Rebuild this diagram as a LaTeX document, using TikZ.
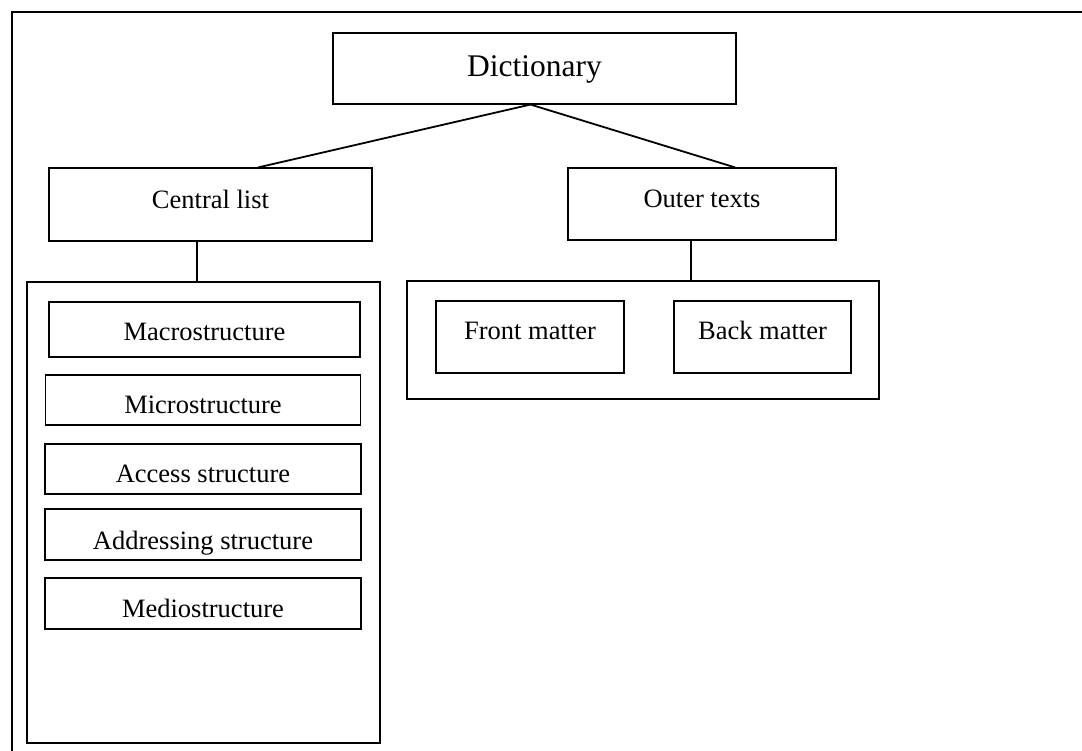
\documentclass[tikz,border=0pt]{standalone}
\usepackage{fontspec}
\setmainfont{Liberation Serif}
\usetikzlibrary{calc}
\begin{document}
\begin{tikzpicture}[x=1pt,y=-1pt,
  box/.style={draw,line width=1.1pt,rectangle,inner sep=0pt,text depth=0pt,
    font=\fontsize{26.5}{31}\selectfont},
  group/.style={draw,line width=1.8pt,rectangle,inner sep=0pt},
  link/.style={line width=1.8pt}]
\useasboundingbox (0,0) rectangle (1082,751);
% page frame (open at right and bottom)
\draw[line width=2pt] (1082,12) -- (12,12) -- (12,751);
% top level
\node[box,minimum width=403pt,minimum height=71pt,text height=16.8pt,
  font=\fontsize{31.5}{36}\selectfont] (dict) at (534.5,68.5) {Dictionary};
\node[box,minimum width=323pt,minimum height=73pt,text height=7.5pt] (central) at (210.5,204.5) {Central list};
\node[box,minimum width=268pt,minimum height=72pt,text height=7.5pt] (outer) at (702,204) {Outer texts};
% containers
\node[group,minimum width=353pt,minimum height=461pt] (clist) at (203.5,512.5) {};
\node[group,minimum width=472pt,minimum height=118pt] (otexts) at (643,340) {};
% central list components
\node[box,minimum width=311pt,minimum height=55pt,text height=21.5pt] (macro) at (204.5,329.5) {Macrostructure};
\node[box,minimum width=315pt,minimum height=50pt,text height=27.5pt] (micro) at (203,400) {Microstructure};
\node[box,minimum width=316pt,minimum height=50pt,text height=27.5pt] (access) at (203,469) {Access structure};
\node[box,minimum width=316pt,minimum height=51pt,text height=29.5pt] (address) at (203,534.5) {Addressing structure};
\node[box,minimum width=316pt,minimum height=51pt,text height=27.5pt] (medio) at (203,603.5) {Mediostructure};
% outer texts components
\node[box,minimum width=188pt,minimum height=72pt,text height=4.5pt] (front) at (530,337) {Front matter};
\node[box,minimum width=177pt,minimum height=72pt,text height=4.5pt] (back) at (762.5,337) {Back matter};
% connectors
\coordinate (apex) at ([xshift=-4pt]dict.south);
\coordinate (cin) at ($(central.north west)!0.647!(central.north east)$);
\coordinate (oin) at ($(outer.north west)!0.623!(outer.north east)$);
\draw[link] (cin) -- (apex) -- (oin);
\coordinate (cout) at ($(central.south west)!0.458!(central.south east)$);
\coordinate (oout) at ($(outer.south west)!0.459!(outer.south east)$);
\draw[link] (cout) -- (cout |- clist.north);
\draw[link] (oout) -- (oout |- otexts.north);
\end{tikzpicture}
\end{document}
